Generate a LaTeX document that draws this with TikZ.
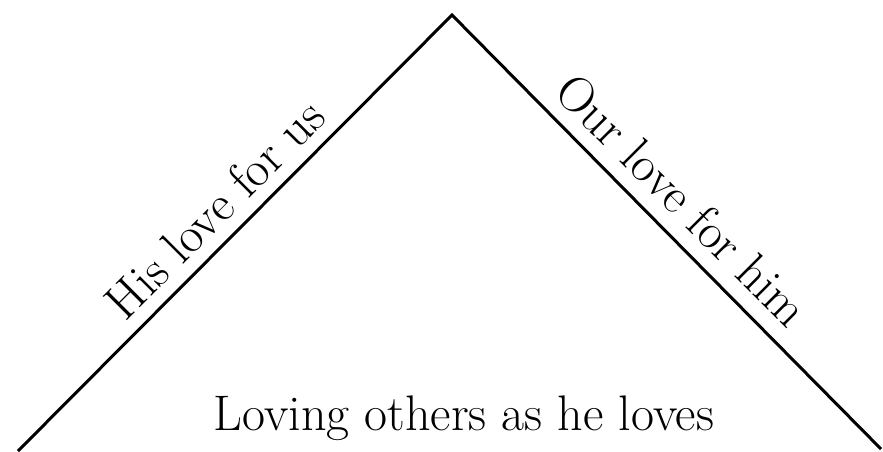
\documentclass[tikz,border=0pt]{standalone}
\begin{document}
\begin{tikzpicture}[x=1pt,y=-1pt,
  roof/.style={line width=3pt,line join=miter},
  lbl/.style={font=\fontsize{50}{60}\selectfont,inner sep=0pt,anchor=base}]
\useasboundingbox (0,0) rectangle (883,452);
\coordinate (apex) at (452,15);
\coordinate (lend) at (18,451);
\coordinate (rend) at (881,449);
\draw[roof] (lend) -- (apex) -- (rend);
\node[lbl,rotate=45] (his) at (227,221) {His love for us};
\node[lbl,rotate=-45] (our) at (670,212) {Our love for him};
\node[lbl] (loving) at (464,430) {Loving others as he loves};
\end{tikzpicture}
\end{document}
